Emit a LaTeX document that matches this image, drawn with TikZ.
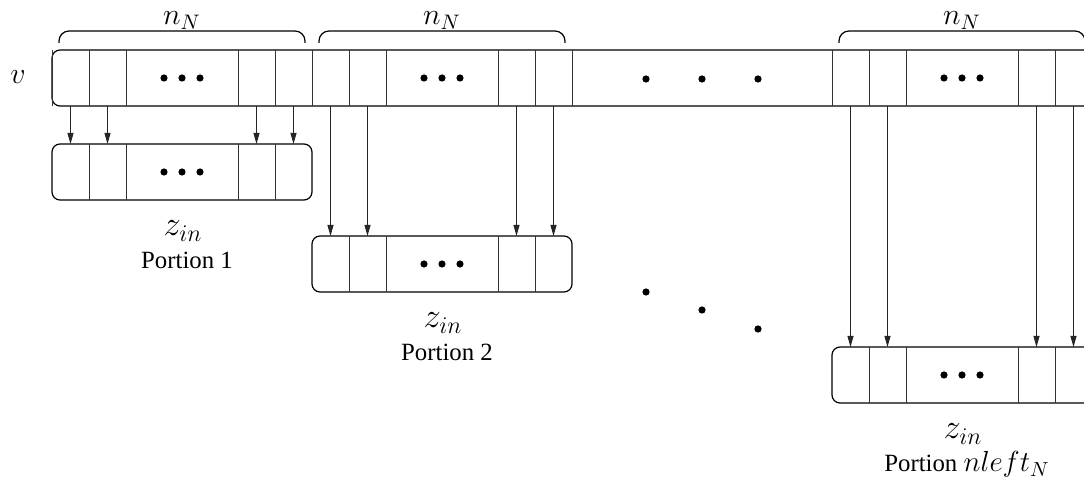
\documentclass[tikz,border=0pt]{standalone}
\usepackage{fix-cm}
\usepackage{fontspec}
\setmainfont{Liberation Serif}
\usetikzlibrary{arrows.meta}

\begin{document}
\begin{tikzpicture}[x=0.5pt, y=-0.5pt,
    cell/.style={rectangle, minimum height=28pt, inner sep=0pt, outer sep=0pt},
    narrow/.style={cell, minimum width=18.5pt},
    wide/.style={cell, minimum width=56pt},
    box/.style={rectangle, draw, line width=0.6pt, rounded corners=4pt,
                minimum height=28pt, inner sep=0pt, outer sep=0pt},
    sep/.style={line width=0.5pt, draw=black!80},
    arr/.style={-{Triangle[length=5.5pt,width=3pt]}, line width=0.5pt, draw=black!85},
    brace/.style={line width=0.6pt, rounded corners=5pt},
    lbl/.style={font=\fontsize{15}{18}\selectfont, inner sep=0pt},
    zlbl/.style={font=\fontsize{17.28}{20}\selectfont, inner sep=0pt},
    portion/.style={font=\fontsize{12.4}{15}\selectfont, inner sep=0pt}
  ]
    \useasboundingbox (0,0) rectangle (1084,486);

    % outer boxes
    \node[box, minimum width=520pt] (v) at (572,78) {};
    \node[box, minimum width=130pt] (p1) at (182,172) {};
    \node[box, minimum width=130pt] (p2) at (442,264) {};
    \node[box, minimum width=130pt] (p3) at (962,375) {};
    \node[lbl] (vname) at (18,77) {$v$};

    % cells, braces, arrows and labels of each portion
    \foreach \g/\L/\Py/\t in {1/52/172/1, 2/312/264/2,
                              3/832/375/{\fontsize{14.5}{17}\selectfont$nleft_N$}} {
      \foreach \r/\y in {v/78, p/\Py} {
        \node[narrow] (\r\g-1) at (\L+18.5,\y) {};
        \node[narrow] (\r\g-2) at (\L+55.5,\y) {};
        \node[wide]   (\r\g-3) at (\L+130,\y)  {};
        \node[narrow] (\r\g-4) at (\L+204.5,\y) {};
        \node[narrow] (\r\g-5) at (\L+241.5,\y) {};
        \foreach \k in {1,...,4}
          \draw[sep] (\r\g-\k.north east) -- (\r\g-\k.south east);
        \fill ([xshift=-9pt]\r\g-3.center) circle (1.8pt)
              (\r\g-3.center) circle (1.8pt)
              ([xshift=9pt]\r\g-3.center) circle (1.8pt);
      }
      \draw[sep] (v\g-1.north west) -- (v\g-1.south west);
      \draw[sep] (v\g-5.north east) -- (v\g-5.south east);
      \foreach \k in {1,2,4,5}
        \draw[arr] (v\g-\k.south) -- (p\g-\k.north);
      \draw[brace] (\L+7,43) -- (\L+7,31) -- (\L+253,31) -- (\L+253,43);
      \node[lbl, anchor=base] (n\g) at (\L+130,25) {$n_N$};
      \node[zlbl] (z\g) at (\L+131,\Py+59) {$z_{in}$};
      \node[portion, anchor=base] (c\g) at (\L+135,\Py+97) {Portion \t};
    }

    % skipped portions
    \fill (646,79) circle (1.8pt) (702,79) circle (1.8pt) (758,79) circle (1.8pt);
    \fill (646,292) circle (1.8pt) (702,310) circle (1.8pt) (758,329) circle (1.8pt);
\end{tikzpicture}
\end{document}
